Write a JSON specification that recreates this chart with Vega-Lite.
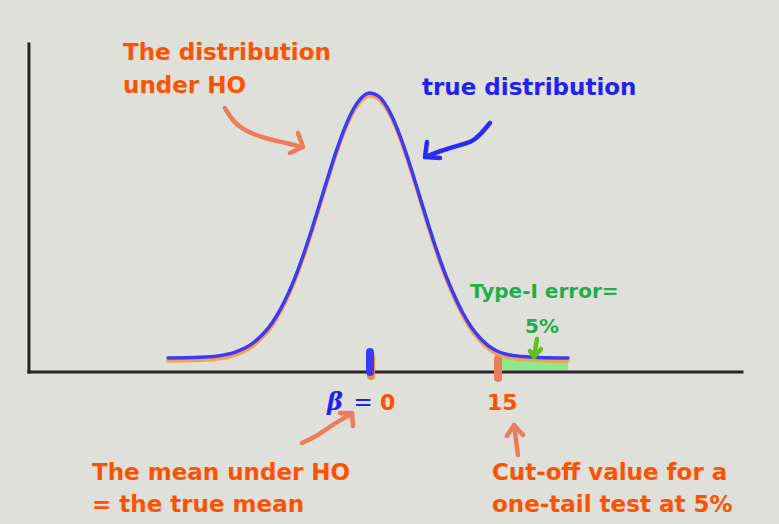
{
  "$schema": "https://vega.github.io/schema/vega-lite/v6.json",
  "width": 779,
  "height": 524,
  "autosize": {"type": "fit", "contains": "padding"},
  "padding": 0,
  "background": "#dfe0da",
  "config": {"view": {"stroke": null}},
  "datasets": {
    "curve": [
      {"s":"true","u":-23.86,"h":0.14},{"s":"true","u":-20,"h":0.147},{"s":"true","u":-18,"h":0.16},{"s":"true","u":-16,"h":0.196},
      {"s":"true","u":-14,"h":0.278},{"s":"true","u":-13,"h":0.35},{"s":"true","u":-12,"h":0.441},{"s":"true","u":-11,"h":0.565},
      {"s":"true","u":-10,"h":0.722},{"s":"true","u":-9,"h":0.914},{"s":"true","u":-8,"h":1.139},{"s":"true","u":-7,"h":1.393},
      {"s":"true","u":-6,"h":1.664},{"s":"true","u":-5,"h":1.939},{"s":"true","u":-4,"h":2.204},{"s":"true","u":-3,"h":2.437},
      {"s":"true","u":-2,"h":2.622},{"s":"true","u":-1,"h":2.743},{"s":"true","u":0,"h":2.79},{"s":"true","u":1,"h":2.758},
      {"s":"true","u":2,"h":2.651},{"s":"true","u":3,"h":2.479},{"s":"true","u":4,"h":2.254},{"s":"true","u":5,"h":1.995},
      {"s":"true","u":6,"h":1.72},{"s":"true","u":7,"h":1.446},{"s":"true","u":8,"h":1.189},{"s":"true","u":9,"h":0.956},
      {"s":"true","u":10,"h":0.758},{"s":"true","u":11,"h":0.585},{"s":"true","u":12,"h":0.445},{"s":"true","u":13,"h":0.34},
      {"s":"true","u":14,"h":0.262},{"s":"true","u":15,"h":0.21},{"s":"true","u":16,"h":0.18},{"s":"true","u":18,"h":0.155},
      {"s":"true","u":20,"h":0.145},{"s":"true","u":23.39,"h":0.14},
      {"s":"h0","u":-23.86,"h":0.11},{"s":"h0","u":-20,"h":0.117},{"s":"h0","u":-18,"h":0.13},{"s":"h0","u":-16,"h":0.166},
      {"s":"h0","u":-14,"h":0.248},{"s":"h0","u":-13,"h":0.32},{"s":"h0","u":-12,"h":0.411},{"s":"h0","u":-11,"h":0.535},
      {"s":"h0","u":-10,"h":0.692},{"s":"h0","u":-9,"h":0.884},{"s":"h0","u":-8,"h":1.109},{"s":"h0","u":-7,"h":1.363},
      {"s":"h0","u":-6,"h":1.634},{"s":"h0","u":-5,"h":1.909},{"s":"h0","u":-4,"h":2.174},{"s":"h0","u":-3,"h":2.407},
      {"s":"h0","u":-2,"h":2.592},{"s":"h0","u":-1,"h":2.713},{"s":"h0","u":0,"h":2.76},{"s":"h0","u":1,"h":2.728},
      {"s":"h0","u":2,"h":2.621},{"s":"h0","u":3,"h":2.449},{"s":"h0","u":4,"h":2.224},{"s":"h0","u":5,"h":1.965},
      {"s":"h0","u":6,"h":1.69},{"s":"h0","u":7,"h":1.416},{"s":"h0","u":8,"h":1.159},{"s":"h0","u":9,"h":0.926},
      {"s":"h0","u":10,"h":0.728},{"s":"h0","u":11,"h":0.555},{"s":"h0","u":12,"h":0.415},{"s":"h0","u":13,"h":0.31},
      {"s":"h0","u":14,"h":0.232},{"s":"h0","u":15,"h":0.18},{"s":"h0","u":16,"h":0.15},{"s":"h0","u":18,"h":0.125},
      {"s":"h0","u":20,"h":0.115},{"s":"h0","u":23.39,"h":0.11}
    ],
    "alpha": [
      {"u":15.3,"h":0.17,"h2":0.02},{"u":16.0,"h":0.15,"h2":0.02},{"u":17.0,"h":0.135,"h2":0.02},{"u":18.0,"h":0.125,"h2":0.02},
      {"u":20.0,"h":0.115,"h2":0.02},{"u":23.39,"h":0.11,"h2":0.02}
    ],
    "axes": [
      {"part":"y","u":-40.28,"u2":-40.28,"h":3.28,"h2":0},
      {"part":"x","u":-40.28,"u2":43.94,"h":0,"h2":0}
    ],
    "ticks": [
      {"k":"h0zero","u":0.12,"h":0.16,"h2":-0.04},
      {"k":"truezero","u":0.0,"h":0.20,"h2":0.0},
      {"k":"cut","u":15.12,"h":0.13,"h2":-0.06}
    ],
    "arrows": [
      {"c":"salmon","id":"a1","i":1,"u":-17.13,"h":2.64},{"c":"salmon","id":"a1","i":2,"u":-16.18,"h":2.50},
      {"c":"salmon","id":"a1","i":3,"u":-14.53,"h":2.40},{"c":"salmon","id":"a1","i":4,"u":-12.17,"h":2.33},
      {"c":"salmon","id":"a1","i":5,"u":-9.80,"h":2.29},{"c":"salmon","id":"a1","i":6,"u":-8.03,"h":2.25},
      {"c":"salmon","id":"a1h","i":1,"u":-8.50,"h":2.39},{"c":"salmon","id":"a1h","i":2,"u":-7.91,"h":2.25},
      {"c":"salmon","id":"a1h","i":3,"u":-9.45,"h":2.19},
      {"c":"blue","id":"b1","i":1,"u":14.17,"h":2.49},{"c":"blue","id":"b1","i":2,"u":12.99,"h":2.37},
      {"c":"blue","id":"b1","i":3,"u":12.05,"h":2.30},{"c":"blue","id":"b1","i":4,"u":10.63,"h":2.27},
      {"c":"blue","id":"b1","i":5,"u":8.62,"h":2.22},{"c":"blue","id":"b1","i":6,"u":6.50,"h":2.15},
      {"c":"blue","id":"b1h","i":1,"u":6.73,"h":2.30},{"c":"blue","id":"b1h","i":2,"u":6.50,"h":2.15},
      {"c":"blue","id":"b1h","i":3,"u":8.27,"h":2.14},
      {"c":"salmon","id":"c1","i":1,"u":-8.03,"h":-0.71},{"c":"salmon","id":"c1","i":2,"u":-6.50,"h":-0.65},
      {"c":"salmon","id":"c1","i":3,"u":-4.96,"h":-0.56},{"c":"salmon","id":"c1","i":4,"u":-3.31,"h":-0.47},
      {"c":"salmon","id":"c1","i":5,"u":-2.13,"h":-0.42},
      {"c":"salmon","id":"c1h","i":1,"u":-3.54,"h":-0.41},{"c":"salmon","id":"c1h","i":2,"u":-2.13,"h":-0.41},
      {"c":"salmon","id":"c1h","i":3,"u":-2.01,"h":-0.54},
      {"c":"salmon","id":"d1","i":1,"u":17.48,"h":-0.83},{"c":"salmon","id":"d1","i":2,"u":17.24,"h":-0.68},
      {"c":"salmon","id":"d1","i":3,"u":17.01,"h":-0.53},
      {"c":"salmon","id":"d1h","i":1,"u":16.18,"h":-0.64},{"c":"salmon","id":"d1h","i":2,"u":17.01,"h":-0.53},
      {"c":"salmon","id":"d1h","i":3,"u":18.07,"h":-0.63},
      {"c":"green","id":"e1","i":1,"u":19.72,"h":0.33},{"c":"green","id":"e1","i":2,"u":19.37,"h":0.15},
      {"c":"green","id":"e1h","i":1,"u":18.90,"h":0.21},{"c":"green","id":"e1h","i":2,"u":19.37,"h":0.15},
      {"c":"green","id":"e1h","i":3,"u":20.20,"h":0.23}
    ],
    "labels": [
      {"kind":"h0","text":"The distribution","u":-29.17,"h":3.12},
      {"kind":"h0","text":"under HO","u":-29.17,"h":2.79},
      {"kind":"true","text":"true distribution","u":6.14,"h":2.77},
      {"kind":"alpha","text":"Type-I error=","u":11.81,"h":0.74},
      {"kind":"alpha","text":"5%","u":18.31,"h":0.39},
      {"kind":"beta","text":"β","u":-5.08,"h":-0.38},
      {"kind":"eq","text":"=","u":-1.95,"h":-0.38},
      {"kind":"num","text":"0","u":1.18,"h":-0.38},
      {"kind":"num","text":"15","u":13.82,"h":-0.38},
      {"kind":"h0","text":"The mean under HO","u":-32.83,"h":-1.08},
      {"kind":"h0","text":"= the true mean","u":-32.83,"h":-1.40},
      {"kind":"h0","text":"Cut-off value for a","u":14.41,"h":-1.08},
      {"kind":"h0","text":"one-tail test at 5%","u":14.41,"h":-1.40}
    ]
  },
  "encoding": {
    "x": {"field": "u", "type": "quantitative", "scale": {"domain": [-43.7, 48.31], "nice": false, "zero": false}, "axis": null},
    "y": {"field": "h", "type": "quantitative", "scale": {"domain": [-1.52, 3.72], "nice": false, "zero": false}, "axis": null}
  },
  "layer": [
    {
      "data": {"name": "alpha"},
      "mark": {"type": "area", "color": "#8fe889", "interpolate": "monotone"},
      "encoding": {"y2": {"field": "h2"}}
    },
    {
      "data": {"name": "axes"},
      "mark": {"type": "rule", "color": "#262626", "strokeWidth": 3, "strokeCap": "square"},
      "encoding": {"x2": {"field": "u2"}, "y2": {"field": "h2"}}
    },
    {
      "data": {"name": "ticks"},
      "transform": [{"filter": "datum.k === 'h0zero'"}],
      "mark": {"type": "rule", "color": "#f28a3c", "strokeWidth": 8, "strokeCap": "round"},
      "encoding": {"y2": {"field": "h2"}}
    },
    {
      "data": {"name": "ticks"},
      "transform": [{"filter": "datum.k === 'truezero'"}],
      "mark": {"type": "rule", "color": "#3b3bf7", "strokeWidth": 8, "strokeCap": "round"},
      "encoding": {"y2": {"field": "h2"}}
    },
    {
      "data": {"name": "ticks"},
      "transform": [{"filter": "datum.k === 'cut'"}],
      "mark": {"type": "rule", "color": "#ec7c5c", "strokeWidth": 8, "strokeCap": "round"},
      "encoding": {"y2": {"field": "h2"}}
    },
    {
      "data": {"name": "curve"},
      "transform": [{"filter": "datum.s === 'h0'"}],
      "mark": {"type": "line", "color": "#f7a050", "strokeWidth": 3.5, "interpolate": "monotone", "strokeCap": "round"}
    },
    {
      "data": {"name": "curve"},
      "transform": [{"filter": "datum.s === 'true'"}],
      "mark": {"type": "line", "color": "#3b3bf7", "strokeWidth": 3.5, "interpolate": "monotone", "strokeCap": "round"}
    },
    {
      "data": {"name": "arrows"},
      "transform": [{"filter": "indexof(datum.id, 'h') < 0"}],
      "mark": {"type": "line", "strokeWidth": 4.5, "interpolate": "basis", "strokeCap": "round", "strokeJoin": "round"},
      "encoding": {
        "detail": {"field": "id"},
        "order": {"field": "i"},
        "color": {"field": "c", "type": "nominal", "scale": {"domain": ["salmon", "blue", "green"], "range": ["#ec7c5c", "#2a2af2", "#5cc21b"]}, "legend": null}
      }
    },
    {
      "data": {"name": "arrows"},
      "transform": [{"filter": "indexof(datum.id, 'h') >= 0"}],
      "mark": {"type": "line", "strokeWidth": 4.5, "strokeCap": "round", "strokeJoin": "round"},
      "encoding": {
        "detail": {"field": "id"},
        "order": {"field": "i"},
        "color": {"field": "c", "type": "nominal", "scale": {"domain": ["salmon", "blue", "green"], "range": ["#ec7c5c", "#2a2af2", "#5cc21b"]}, "legend": null}
      }
    },
    {
      "data": {"name": "labels"},
      "transform": [{"filter": "datum.kind === 'h0'"}],
      "mark": {"type": "text", "align": "left", "baseline": "alphabetic", "font": "DejaVu Sans", "fontWeight": "bold", "fontSize": 23, "color": "#fd5200"},
      "encoding": {"text": {"field": "text"}}
    },
    {
      "data": {"name": "labels"},
      "transform": [{"filter": "datum.kind === 'true'"}],
      "mark": {"type": "text", "align": "left", "baseline": "alphabetic", "font": "DejaVu Sans", "fontWeight": "bold", "fontSize": 23, "color": "#2222ee"},
      "encoding": {"text": {"field": "text"}}
    },
    {
      "data": {"name": "labels"},
      "transform": [{"filter": "datum.kind === 'alpha'"}],
      "mark": {"type": "text", "align": "left", "baseline": "alphabetic", "font": "DejaVu Sans", "fontWeight": "bold", "fontSize": 20, "color": "#1fae4b"},
      "encoding": {"text": {"field": "text"}}
    },
    {
      "data": {"name": "labels"},
      "transform": [{"filter": "datum.kind === 'beta'"}],
      "mark": {"type": "text", "align": "left", "baseline": "alphabetic", "font": "DejaVu Serif", "fontWeight": "bold", "fontStyle": "italic", "fontSize": 24, "color": "#2222ee"},
      "encoding": {"text": {"field": "text"}}
    },
    {
      "data": {"name": "labels"},
      "transform": [{"filter": "datum.kind === 'eq'"}],
      "mark": {"type": "text", "align": "left", "baseline": "alphabetic", "font": "DejaVu Sans", "fontSize": 23, "color": "#2222ee"},
      "encoding": {"text": {"field": "text"}}
    },
    {
      "data": {"name": "labels"},
      "transform": [{"filter": "datum.kind === 'num'"}],
      "mark": {"type": "text", "align": "left", "baseline": "alphabetic", "font": "DejaVu Sans", "fontWeight": "bold", "fontSize": 22, "color": "#fd5200"},
      "encoding": {"text": {"field": "text"}}
    }
  ]
}
